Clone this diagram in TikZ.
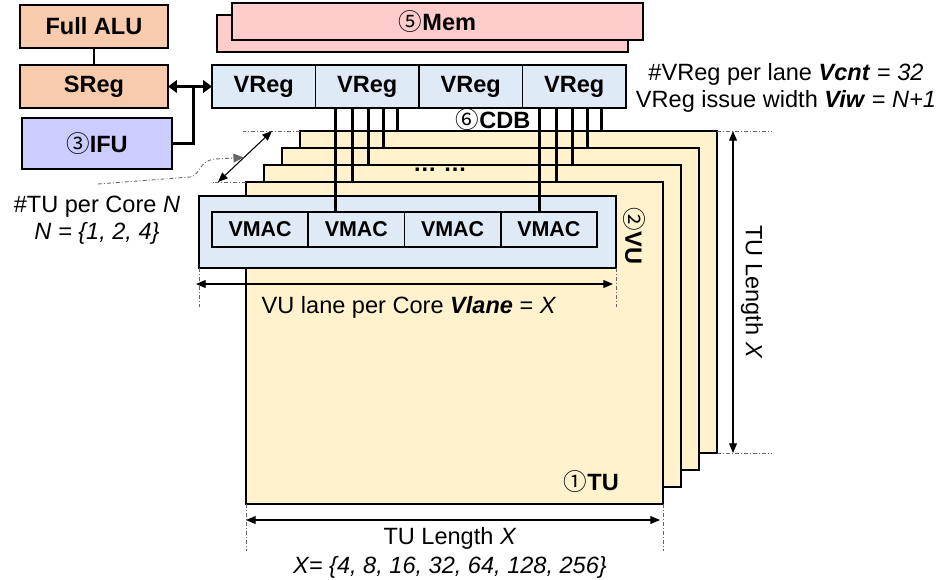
\documentclass[tikz,border=0pt]{standalone}
\usepackage{fontspec}
\setmainfont{Liberation Sans}
\newfontfamily\circfont{Noto Sans CJK SC}
\usepackage{xcolor}
\usepackage{tikz}
\usetikzlibrary{arrows.meta, positioning, calc}

\definecolor{aluorange}{HTML}{F8CBAD}
\definecolor{ifupurple}{HTML}{CCCCFF}
\definecolor{mempink}{HTML}{FFCCCC}
\definecolor{regblue}{HTML}{DEEBF7}
\definecolor{tuyellow}{HTML}{FFF2CC}

\newcommand{\cnum}[1]{{\circfont\mdseries #1}}
\newcommand{\lblfont}{\fontsize{13.4}{15.5}\selectfont}

\tikzset{
  unit/.style={draw, line width=0.9pt, inner sep=0pt, outer sep=0pt, font=\lblfont\bfseries},
  layer/.style={draw, line width=0.9pt, fill=tuyellow, minimum width=8.34cm, minimum height=6.44cm, inner sep=0pt, outer sep=0pt},
  bus/.style={line width=1.8pt},
  link/.style={line width=1.7pt},
  guide/.style={gray!80!black, line width=0.5pt, dash pattern=on 2.2pt off 1.2pt on 0.5pt off 1.2pt},
  dim/.style={line width=0.6pt, {Triangle[length=5.5pt,width=4.5pt]}-{Triangle[length=5.5pt,width=4.5pt]}},
}

\begin{document}
\begin{tikzpicture}[x=0.2mm, y=-0.2mm]
        \useasboundingbox (0,0) rectangle (940,579);

        % Scalar side
        \node[unit, fill=aluorange, minimum width=2.96cm, minimum height=0.86cm] (alu) at (94,26.5) {Full ALU};
        \node[unit, fill=aluorange, minimum width=2.96cm, minimum height=0.86cm] (sreg) at (94,86.5) {SReg};
        \node[unit, fill=ifupurple, minimum width=3.0cm, minimum height=1.02cm] (ifu) at (97,143.5) {\cnum{③}IFU};
        \draw[link] (alu) -- (sreg);

        % Memory
        \node[unit, fill=mempink, minimum width=8.22cm, minimum height=0.74cm] (memback) at (422.5,33.5) {};
        \node[unit, fill=mempink, minimum width=8.22cm, minimum height=0.74cm] (mem) at (437.5,21.5) {\cnum{⑤}Mem};

        % Vector registers
        \node[unit, fill=regblue, minimum width=2.07cm, minimum height=0.86cm] (vreg1) at (263.75,86.5) {VReg};
        \node[unit, fill=regblue, minimum width=2.07cm, minimum height=0.86cm, right=0pt of vreg1] (vreg2) {VReg};
        \node[unit, fill=regblue, minimum width=2.07cm, minimum height=0.86cm, right=0pt of vreg2] (vreg3) {VReg};
        \node[unit, fill=regblue, minimum width=2.07cm, minimum height=0.86cm, right=0pt of vreg3] (vreg4) {VReg};
        \draw[link, {Triangle[length=5pt,width=7pt]}-{Triangle[length=5pt,width=7pt]}] (sreg.east) -- (vreg1.west);
        \draw[link] (ifu.east) -| ($(sreg.east)!0.57!(vreg1.west)$);
        \node[font=\lblfont\bfseries] (cdb) at (493,120) {\cnum{⑥}CDB};
        \node[font=\lblfont, align=center] (vregnote) at (786,88)
          {\#VReg per lane \textbf{\textit{Vcnt}} = \textit{32}\\VReg issue width \textbf{\textit{Viw}} = \textit{N+1}};

        % Stack of TUs, back to front
        \node[layer] (tu1) at (508.5,292) {};
        \node[layer] (tu2) at (490.5,309) {};
        \node[layer] (tu3) at (472.5,326) {};
        \node[layer] (tu4) at (454.5,343) {};
        \node[font=\lblfont\bfseries] (dots) at (440,170) {\ldots\ \ldots};
        \node[font=\lblfont\bfseries, anchor=south east] (tulabel) at ($(tu4.south east)+(-38,-5)$) {\cnum{①}TU};

        % VU with its lanes
        \node[unit, fill=regblue, minimum width=8.34cm, minimum height=1.44cm] (vu) at (407.5,232) {};
        \node[unit, fill=regblue, minimum width=1.925cm, minimum height=0.7cm, font=\fontsize{12.2}{14}\selectfont\bfseries] (vmac1) at (260.1,229.5) {VMAC};
        \node[unit, fill=regblue, minimum width=1.925cm, minimum height=0.7cm, font=\fontsize{12.2}{14}\selectfont\bfseries, right=0pt of vmac1] (vmac2) {VMAC};
        \node[unit, fill=regblue, minimum width=1.925cm, minimum height=0.7cm, font=\fontsize{12.2}{14}\selectfont\bfseries, right=0pt of vmac2] (vmac3) {VMAC};
        \node[unit, fill=regblue, minimum width=1.925cm, minimum height=0.7cm, font=\fontsize{12.2}{14}\selectfont\bfseries, right=0pt of vmac3] (vmac4) {VMAC};
        \node[font=\lblfont\bfseries, rotate=-90, anchor=south] (vulabel) at ($(vu.east)+(1,4)$) {\cnum{②}VU};

        % CDB lines
        \path ($(vreg2.south west)+(20,0)$) coordinate (lanea);
        \path ($(vreg4.south west)+(17,0)$) coordinate (laneb);
        \draw[bus] (lanea) -- (lanea |- vmac2.north);
        \draw[bus] (laneb) -- (laneb |- vmac4.north);
        \foreach \dx/\tu in {17/tu4, 33/tu3, 48/tu2, 62/tu1} {
          \draw[bus] ($(lanea)+(\dx,0)$) coordinate (s) -- (s |- \tu.north);
          \draw[bus] ($(laneb)+(\dx,0)$) coordinate (s) -- (s |- \tu.north);
        }

        % VU lane count
        \draw[guide] (vu.south west) -- ++(0,39);
        \draw[guide] (vu.south east) -- ++(0,39);
        \draw[dim] ($(vu.south west)+(-3,16)$) -- ($(vu.south east)+(-3,16)$);
        \node[font=\lblfont] (lanenote) at (409,307) {VU lane per Core \textbf{\textit{Vlane}} = \textit{X}};

        % TU count
        \draw[guide] (tu1.north west) -- ++(-57,0) coordinate (ntop);
        \draw[guide] (tu4.north west) -- ++(-33,0) coordinate (nbot);
        \draw[dim] ($(nbot)+(5,0)$) -- ($(ntop)+(29,0)$);
        \draw[guide, -{Triangle[length=6pt,width=5pt]}] (98,184) -- (190,177) .. controls (200,176) and (198,161) .. (215,159) -- (244,157.5);
        \node[font=\lblfont, align=center] (tunote) at (97,220) {\#TU per Core \textit{N}\\\textit{N = \{1, 2, 4\}}};

        % TU length, bottom
        \draw[guide] (tu4.south west) -- ++(0,47);
        \draw[guide] (tu4.south east) -- ++(0,47);
        \draw[dim] ($(tu4.south west)+(0,16)$) -- ($(tu4.south east)+(-3,16)$);
        \node[font=\lblfont] (lenh) at (450,538) {TU Length \textit{X}};
        \node[font=\lblfont] (xvals) at (450,567) {\textit{X= \{4, 8, 16, 32, 64, 128, 256\}}};

        % TU length, right
        \draw[guide] (tu1.north east) -- ++(55,0);
        \draw[guide] (tu1.south east) -- ++(55,0);
        \draw[dim] ($(tu1.north east)+(16,0)$) -- ($(tu1.south east)+(16,0)$);
        \node[font=\lblfont, rotate=-90] (lenv) at ($(tu1.east)+(35,0)$) {TU Length \textit{X}};
      \end{tikzpicture}
\end{document}
